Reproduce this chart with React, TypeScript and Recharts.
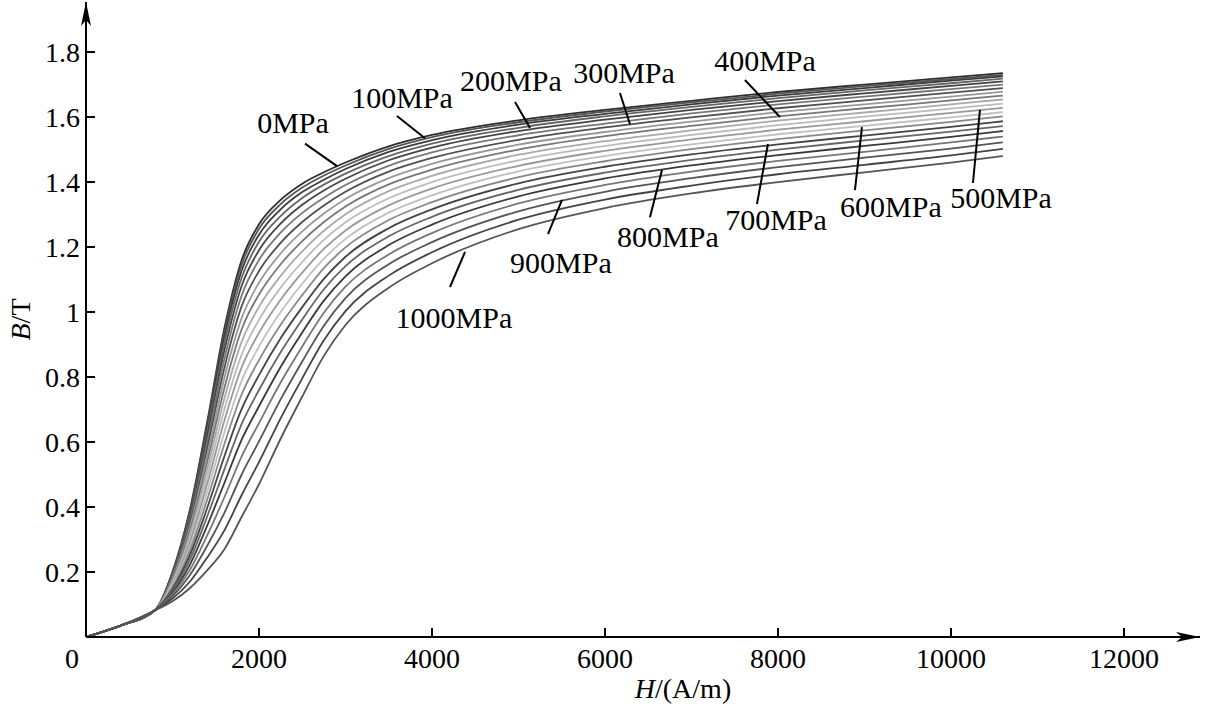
import React from 'react';
import { LineChart, Line, XAxis, YAxis, ReferenceLine, ReferenceDot } from 'recharts';

// Field strength H (A/m) sample points
const H_VALUES = [0, 400, 800, 1000, 1200, 1400, 1600, 1800, 2000, 2250, 2500, 2750, 3000, 3500, 4000, 5000, 6000, 7000, 8000, 9000, 10000, 10600];

// Flux density B (T) per stress level (MPa)
const b0 = [0, 0.035, 0.083, 0.200, 0.390, 0.660, 0.950, 1.160, 1.270, 1.345, 1.395, 1.430, 1.460, 1.510, 1.545, 1.590, 1.622, 1.650, 1.677, 1.700, 1.722, 1.735];
const b50 = [0, 0.035, 0.083, 0.198, 0.386, 0.652, 0.938, 1.146, 1.256, 1.332, 1.383, 1.420, 1.451, 1.502, 1.538, 1.584, 1.617, 1.645, 1.672, 1.695, 1.717, 1.730];
const b100 = [0, 0.035, 0.083, 0.196, 0.380, 0.642, 0.923, 1.128, 1.238, 1.316, 1.369, 1.407, 1.440, 1.493, 1.529, 1.577, 1.610, 1.639, 1.666, 1.689, 1.712, 1.725];
const b150 = [0, 0.035, 0.083, 0.194, 0.374, 0.629, 0.904, 1.106, 1.216, 1.295, 1.351, 1.392, 1.426, 1.480, 1.518, 1.567, 1.602, 1.631, 1.658, 1.682, 1.704, 1.718];
const b200 = [0, 0.035, 0.083, 0.191, 0.366, 0.615, 0.882, 1.081, 1.190, 1.272, 1.330, 1.374, 1.410, 1.467, 1.506, 1.557, 1.592, 1.622, 1.649, 1.673, 1.696, 1.710];
const b250 = [0, 0.035, 0.083, 0.188, 0.357, 0.597, 0.856, 1.051, 1.160, 1.244, 1.305, 1.352, 1.391, 1.450, 1.491, 1.544, 1.580, 1.611, 1.639, 1.663, 1.686, 1.700];
const b300 = [0, 0.035, 0.083, 0.184, 0.347, 0.578, 0.828, 1.018, 1.126, 1.213, 1.277, 1.328, 1.370, 1.432, 1.474, 1.530, 1.568, 1.599, 1.627, 1.651, 1.675, 1.689];
const b350 = [0, 0.035, 0.083, 0.180, 0.336, 0.558, 0.797, 0.982, 1.090, 1.180, 1.248, 1.303, 1.348, 1.412, 1.456, 1.515, 1.554, 1.586, 1.615, 1.639, 1.663, 1.678];
const b400 = [0, 0.035, 0.083, 0.176, 0.325, 0.537, 0.766, 0.947, 1.054, 1.147, 1.218, 1.277, 1.325, 1.393, 1.438, 1.500, 1.541, 1.573, 1.602, 1.627, 1.651, 1.666];
const b450 = [0, 0.035, 0.083, 0.171, 0.314, 0.515, 0.734, 0.909, 1.016, 1.111, 1.187, 1.250, 1.301, 1.372, 1.419, 1.484, 1.526, 1.559, 1.589, 1.614, 1.639, 1.654];
const b500 = [0, 0.035, 0.083, 0.167, 0.302, 0.493, 0.700, 0.869, 0.976, 1.075, 1.154, 1.222, 1.276, 1.350, 1.400, 1.467, 1.511, 1.545, 1.575, 1.601, 1.626, 1.641];
const b550 = [0, 0.035, 0.083, 0.162, 0.290, 0.470, 0.666, 0.830, 0.936, 1.038, 1.121, 1.194, 1.251, 1.328, 1.380, 1.450, 1.496, 1.531, 1.561, 1.587, 1.613, 1.628];
const b600 = [0, 0.035, 0.083, 0.158, 0.277, 0.446, 0.630, 0.789, 0.894, 1.000, 1.087, 1.164, 1.225, 1.306, 1.359, 1.433, 1.480, 1.516, 1.547, 1.573, 1.599, 1.615];
const b650 = [0, 0.035, 0.083, 0.153, 0.265, 0.422, 0.594, 0.747, 0.852, 0.961, 1.052, 1.135, 1.199, 1.283, 1.338, 1.415, 1.464, 1.501, 1.532, 1.559, 1.585, 1.602];
const b700 = [0, 0.035, 0.083, 0.148, 0.251, 0.396, 0.556, 0.702, 0.806, 0.919, 1.015, 1.102, 1.170, 1.258, 1.316, 1.396, 1.447, 1.485, 1.516, 1.543, 1.570, 1.587];
const b750 = [0, 0.035, 0.083, 0.143, 0.237, 0.370, 0.516, 0.656, 0.760, 0.876, 0.977, 1.070, 1.141, 1.233, 1.293, 1.376, 1.429, 1.468, 1.500, 1.528, 1.555, 1.572];
const b800 = [0, 0.035, 0.083, 0.137, 0.222, 0.342, 0.474, 0.607, 0.710, 0.831, 0.937, 1.035, 1.110, 1.206, 1.269, 1.356, 1.411, 1.451, 1.483, 1.511, 1.539, 1.557];
const b850 = [0, 0.035, 0.083, 0.131, 0.206, 0.312, 0.430, 0.556, 0.658, 0.783, 0.894, 0.998, 1.078, 1.177, 1.243, 1.334, 1.391, 1.432, 1.465, 1.493, 1.522, 1.540];
const b900 = [0, 0.035, 0.083, 0.125, 0.190, 0.280, 0.382, 0.500, 0.602, 0.731, 0.848, 0.958, 1.043, 1.147, 1.215, 1.310, 1.370, 1.412, 1.446, 1.475, 1.503, 1.522];
const b950 = [0, 0.035, 0.083, 0.118, 0.170, 0.244, 0.328, 0.437, 0.538, 0.673, 0.796, 0.913, 1.003, 1.112, 1.184, 1.284, 1.346, 1.389, 1.424, 1.453, 1.482, 1.502];
const b1000 = [0, 0.035, 0.082, 0.110, 0.150, 0.205, 0.270, 0.370, 0.470, 0.610, 0.740, 0.865, 0.960, 1.075, 1.150, 1.255, 1.320, 1.365, 1.400, 1.430, 1.460, 1.480];

const STRESS_LEVELS = [0, 50, 100, 150, 200, 250, 300, 350, 400, 450, 500, 550, 600, 650, 700, 750, 800, 850, 900, 950, 1000];
const SERIES_VALUES = [b0, b50, b100, b150, b200, b250, b300, b350, b400, b450, b500, b550, b600, b650, b700, b750, b800, b850, b900, b950, b1000];

const X_TICKS = [0, 2000, 4000, 6000, 8000, 10000, 12000];
const Y_TICKS = [0.2, 0.4, 0.6, 0.8, 1, 1.2, 1.4, 1.6, 1.8];

// Annotation labels: text anchor point and leader line (data coordinates H, B)
const ANNOTATIONS = [
  { text: '0MPa', tx: 2393, ty: 1.585, from: [2532, 1.518], to: [2902, 1.449] },
  { text: '100MPa', tx: 3653, ty: 1.662, from: [3595, 1.603], to: [3919, 1.535] },
  { text: '200MPa', tx: 4913, ty: 1.714, from: [4960, 1.646], to: [5133, 1.566] },
  { text: '300MPa', tx: 6220, ty: 1.738, from: [6173, 1.674], to: [6289, 1.578] },
  { text: '400MPa', tx: 7850, ty: 1.775, from: [7618, 1.714], to: [8023, 1.6] },
  { text: '500MPa', tx: 10578, ty: 1.354, from: [10254, 1.397], to: [10335, 1.622] },
  { text: '600MPa', tx: 9306, ty: 1.326, from: [8890, 1.375], to: [8971, 1.569] },
  { text: '700MPa', tx: 7977, ty: 1.286, from: [7757, 1.332], to: [7884, 1.517] },
  { text: '800MPa', tx: 6728, ty: 1.234, from: [6520, 1.292], to: [6659, 1.437] },
  { text: '900MPa', tx: 5491, ty: 1.154, from: [5341, 1.24], to: [5503, 1.345] },
  { text: '1000MPa', tx: 4254, ty: 0.985, from: [4208, 1.077], to: [4382, 1.185] },
];

const GRAYS = ['#2e2e2e', '#555555', '#3c3c3c', '#666666', '#444444', '#777777', '#505050', '#999999', '#777777', '#aaaaaa', '#bbbbbb', '#999999', '#c0c0c0', '#888888', '#444444', '#666666', '#3a3a3a', '#777777', '#555555', '#444444', '#555555'];

const FONT = '"Liberation Serif", "Times New Roman", serif';

const chartData = H_VALUES.map((h, i) => {
  const row: Record<string, number> = { H: h };
  STRESS_LEVELS.forEach((s, k) => {
    row['s' + s] = SERIES_VALUES[k][i];
  });
  return row;
});

const XTick = (props: any) => {
  const { x, y, payload } = props;
  const v = payload.value;
  return (
    <g>
      {v !== 0 && <line x1={x} y1={y} x2={x} y2={y - 9} stroke="#000" strokeWidth={2} />}
      <text x={v === 0 ? x - 14 : x} y={y + 31} textAnchor="middle" fontSize={28} fontFamily={FONT} fill="#000">
        {String(v)}
      </text>
    </g>
  );
};

const YTick = (props: any) => {
  const { x, y, payload } = props;
  return (
    <g>
      <line x1={x} y1={y} x2={x + 9} y2={y} stroke="#000" strokeWidth={2} />
      <text x={x - 6} y={y + 10} textAnchor="end" fontSize={28} fontFamily={FONT} fill="#000">
        {String(payload.value)}
      </text>
    </g>
  );
};

const XLabel = (props: any) => {
  const vb = props.viewBox || { x: 86, y: 637 };
  return (
    <text x={vb.x + 597} y={vb.y + 61} textAnchor="middle" fontSize={28} fontFamily={FONT} fill="#000">
      <tspan fontStyle="italic">H</tspan>
      <tspan>/(A/m)</tspan>
    </text>
  );
};

const YLabel = (props: any) => {
  const vb = props.viewBox || { x: 0, y: 2, height: 635 };
  const cx = vb.x + 30;
  const cy = vb.y + vb.height / 2;
  return (
    <text x={cx} y={cy} transform={`rotate(-90, ${cx}, ${cy})`} textAnchor="middle" fontSize={28} fontFamily={FONT} fill="#000">
      <tspan fontStyle="italic">B</tspan>
      <tspan>/T</tspan>
    </text>
  );
};

export default function App() {
  return (
    <div style={{ position: 'absolute', left: 0, top: 0, background: '#fff' }}>
      <LineChart width={1213} height={713} data={chartData} margin={{ top: 2, right: 13, bottom: 0, left: 0 }}>
        <defs>
          <marker id="arrowHead" viewBox="0 0 24 10" refX="24" refY="5" markerWidth="24" markerHeight="10" markerUnits="userSpaceOnUse" orient="auto-start-reverse">
            <path d="M0,0 L24,5 L0,10 L6,5 Z" fill="#000" />
          </marker>
        </defs>
        <XAxis
          dataKey="H"
          type="number"
          domain={[0, 12879]}
          ticks={X_TICKS}
          interval={0}
          tickSize={0}
          tickMargin={0}
          tickLine={false}
          tick={<XTick />}
          height={76}
          allowDataOverflow
          axisLine={{ stroke: '#000', strokeWidth: 2, markerEnd: 'url(#arrowHead)' }}
          label={<XLabel />}
        />
        <YAxis
          type="number"
          domain={[0, 1.954]}
          ticks={Y_TICKS}
          interval={0}
          tickSize={0}
          tickMargin={0}
          tickLine={false}
          tick={<YTick />}
          width={86}
          allowDataOverflow
          axisLine={{ stroke: '#000', strokeWidth: 2, markerStart: 'url(#arrowHead)' }}
          label={<YLabel />}
        />
        {STRESS_LEVELS.map((s, k) => (
          <Line
            key={s}
            type="monotone"
            dataKey={'s' + s}
            stroke={GRAYS[k % GRAYS.length]}
            strokeWidth={1.8}
            dot={false}
            activeDot={false}
            isAnimationActive={false}
          />
        ))}
        {ANNOTATIONS.map((a) => (
          <ReferenceLine
            key={'l' + a.text}
            segment={[{ x: a.from[0], y: a.from[1] }, { x: a.to[0], y: a.to[1] }]}
            stroke="#000"
            strokeWidth={2}
            ifOverflow="visible"
          />
        ))}
        {ANNOTATIONS.map((a) => (
          <ReferenceDot
            key={'t' + a.text}
            x={a.tx}
            y={a.ty}
            r={0}
            fill="none"
            stroke="none"
            ifOverflow="visible"
            label={{ value: a.text, position: 'center', fontSize: 30, fontFamily: FONT, fill: '#000' }}
          />
        ))}
      </LineChart>
    </div>
  );
}
